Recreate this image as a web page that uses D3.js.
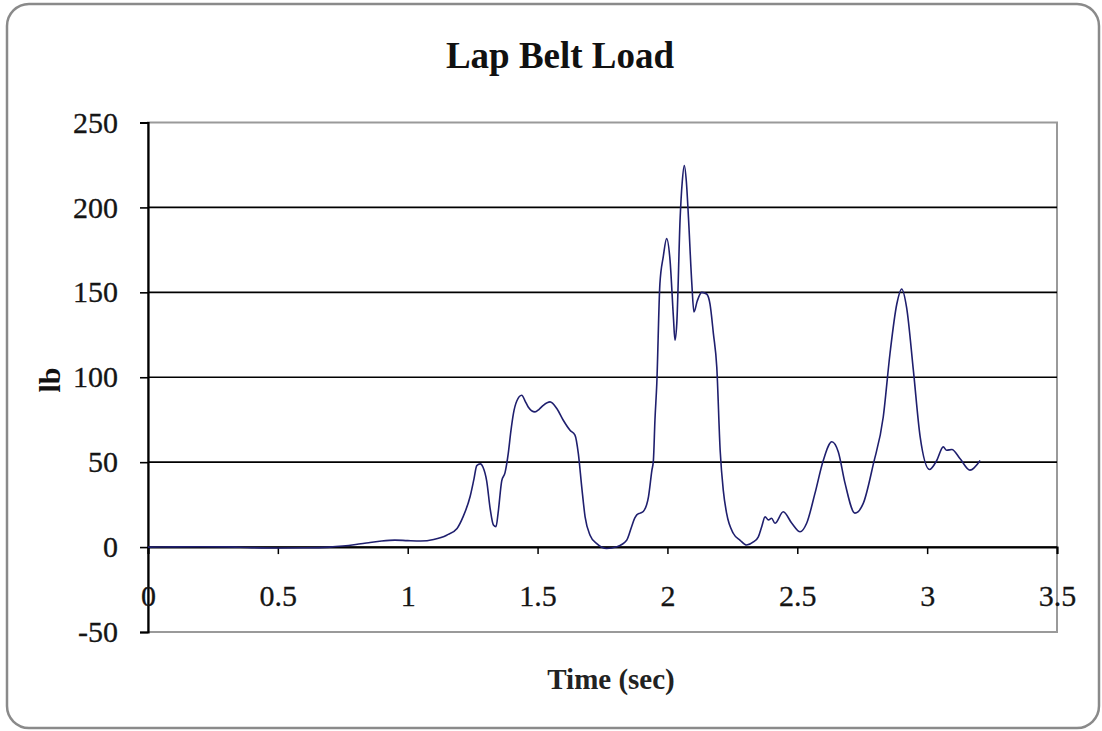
<!DOCTYPE html>
<html><head><meta charset="utf-8">
<script src="https://cdn.jsdelivr.net/npm/d3@7"></script>
<style>body{margin:0;background:#fff}svg{display:block}text{font-family:"Liberation Serif","Times New Roman",serif}</style>
</head><body><svg id="c" width="1102" height="731"></svg>
<script>
const xTicks=[0,0.5,1,1.5,2,2.5,3,3.5];
const yTicks=[-50,0,50,100,150,200,250];
const time=[0,0.1,0.2,0.3,0.4,0.5,0.6,0.7,0.75,0.8,0.85,0.9,0.95,1.0,1.05,1.1,1.15,1.19,1.213,1.24,1.255,1.266,1.28,1.29,1.304,1.318,1.33,1.34,1.348,1.362,1.375,1.387,1.397,1.407,1.42,1.439,1.452,1.464,1.49,1.505,1.522,1.548,1.574,1.599,1.625,1.644,1.657,1.67,1.683,1.702,1.728,1.766,1.805,1.843,1.862,1.874,1.882,1.895,1.907,1.927,1.94,1.946,1.952,1.959,1.971,1.984,1.997,2.01,2.023,2.029,2.036,2.049,2.057,2.065,2.073,2.081,2.094,2.102,2.115,2.132,2.151,2.164,2.177,2.19,2.203,2.215,2.228,2.254,2.28,2.305,2.331,2.35,2.363,2.376,2.389,2.401,2.414,2.446,2.479,2.511,2.536,2.568,2.6,2.633,2.658,2.684,2.722,2.754,2.793,2.831,2.857,2.883,2.902,2.921,2.947,2.973,3.009,3.037,3.062,3.075,3.095,3.127,3.165,3.204];
const load=[0,0.1,0.2,0.1,-0.3,-0.5,-0.4,0,0.6,1.5,2.6,3.6,4.1,3.8,3.6,4.5,7,11,17.8,29.6,40,48,49,47,39,22,13,12,20,39,44,55,68,78.6,86,89.4,86,82.5,79.6,81,83.5,85.5,81.6,74.7,68.8,65.9,55,35.5,17.8,7,2,-0.8,0.2,4,12,17,19,20,21,29.6,45,51,75,96,155,171,181.6,169,135.5,121.8,131.6,194,215,224.7,215,194,155,138.4,145,150,149,143,125.7,106,57,33.5,19.8,8,4,1.2,3,6,12,17.8,16,17,14,20.8,14,9,14,31.6,51,62,56,37.5,20,25.7,49,76.6,114,143,152,141,104,65,45.7,51,59,57,57.5,52,45.3,51];

const svg=d3.select("#c");
svg.append("rect").attr("x",7).attr("y",4).attr("width",1092).attr("height",724).attr("rx",22).attr("fill","#fff").attr("stroke","#8a8a8a").attr("stroke-width",2.5);

const L=148,R=1057,T=122.5,B=632;
const x=d3.scaleLinear().domain([0,3.5]).range([L,R]);
const y=d3.scaleLinear().domain([-50,250]).range([B,T]);

// plot border
svg.append("rect").attr("x",L).attr("y",T).attr("width",R-L).attr("height",B-T).attr("fill","#fff").attr("stroke","#9a9a9a").attr("stroke-width",2);

// gridlines
svg.append("g").selectAll("line").data(yTicks.filter(d=>d>-50&&d<250)).join("line")
  .attr("x1",L).attr("x2",R).attr("y1",d=>y(d)).attr("y2",d=>y(d))
  .attr("stroke","#000").attr("stroke-width",1.6);

// y axis
const ya=svg.append("g").attr("transform",`translate(${L},0)`).call(d3.axisLeft(y).tickValues(yTicks).tickSize(8).tickPadding(22).tickFormat(d=>String(d)));
ya.select(".domain").attr("stroke","#000").attr("stroke-width",2.2);
ya.selectAll(".tick line").attr("stroke","#000").attr("stroke-width",1.6);
ya.selectAll("text").attr("font-family","Liberation Serif").attr("font-size",30).attr("fill","#151515").attr("stroke","#151515").attr("stroke-width",0.3);

// x axis at y=0
const xa=svg.append("g").attr("transform",`translate(0,${y(0)})`).call(d3.axisBottom(x).tickValues(xTicks).tickSize(7).tickPadding(31).tickFormat(d=>String(d)));
xa.select(".domain").attr("stroke","#000").attr("stroke-width",2);
xa.selectAll(".tick line").attr("stroke","#000").attr("stroke-width",1.5);
xa.selectAll("text").attr("font-family","Liberation Serif").attr("font-size",30).attr("fill","#151515").attr("stroke","#151515").attr("stroke-width",0.3);

// line
const line=d3.line().x((d,i)=>x(time[i])).y(d=>y(d)).curve(d3.curveMonotoneX);
svg.append("path").datum(load).attr("d",line).attr("fill","none").attr("stroke","#1f1f6e").attr("stroke-width",1.6);

// titles
svg.append("text").attr("x",560).attr("y",68).attr("text-anchor","middle").attr("font-size",37).attr("font-weight","bold").attr("fill","#111").text("Lap Belt Load");
svg.append("text").attr("transform","translate(60,380) rotate(-90)").attr("text-anchor","middle").attr("font-size",30).attr("font-weight","bold").attr("fill","#111").text("lb");
svg.append("text").attr("x",611).attr("y",689).attr("text-anchor","middle").attr("font-size",29).attr("font-weight","bold").attr("fill","#222").text("Time (sec)");
</script></body></html>
